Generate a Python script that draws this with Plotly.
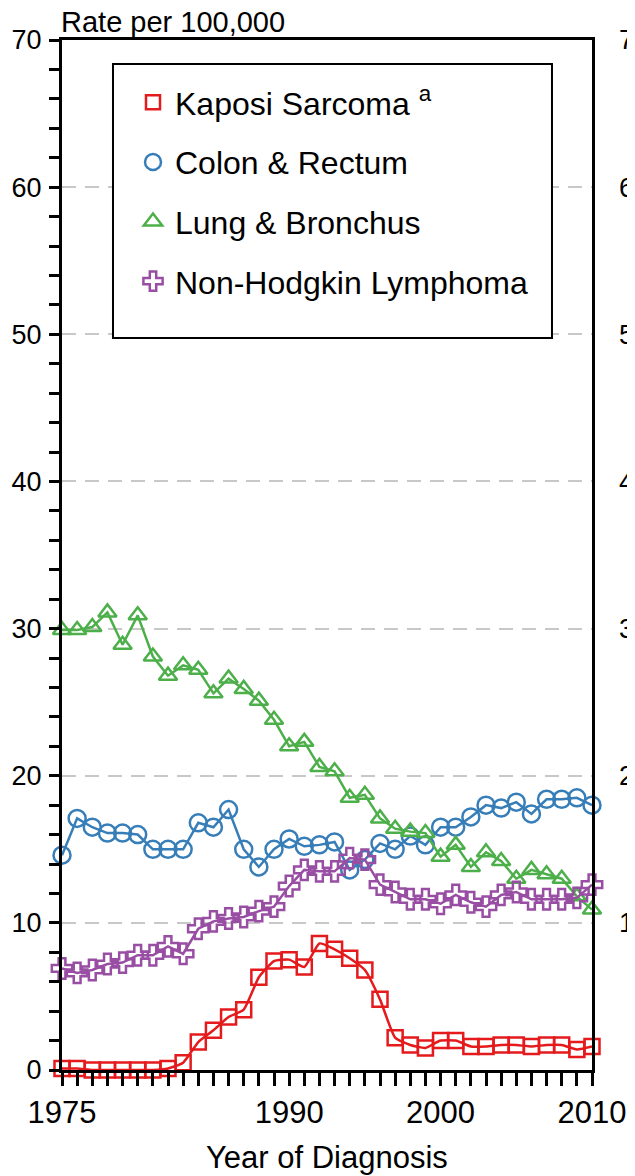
import plotly.graph_objects as go

years = list(range(1975, 2011))
kaposi = [0.1, 0.1, 0.0, 0.0, 0.0, 0.0, 0.0, 0.1, 0.5, 1.9, 2.7, 3.6, 4.1, 6.3, 7.4, 7.5, 7.0, 8.6,
          8.2, 7.6, 6.8, 4.8, 2.2, 1.7, 1.5, 2.0, 2.0, 1.6, 1.6, 1.7, 1.7, 1.6, 1.7, 1.7, 1.4, 1.6]
colon = [14.6, 17.1, 16.5, 16.1, 16.1, 16.0, 15.0, 15.0, 15.0, 16.8, 16.5, 17.7, 15.0, 13.8, 15.0, 15.7,
         15.2, 15.3, 15.5, 13.6, 14.3, 15.4, 15.0, 15.9, 15.3, 16.5, 16.5, 17.2, 18.0, 17.8, 18.2, 17.4,
         18.4, 18.4, 18.5, 18.0]
lung = [29.9, 29.9, 30.1, 31.1, 28.9, 30.9, 28.1, 26.8, 27.5, 27.2, 25.6, 26.6, 25.9, 25.1, 23.8, 22.0,
        22.3, 20.6, 20.3, 18.5, 18.7, 17.1, 16.4, 16.2, 16.1, 14.5, 15.3, 13.8, 14.8, 14.2, 13.0, 13.6,
        13.3, 13.0, 11.8, 10.9]
nhl = [6.9, 6.6, 6.8, 7.2, 7.3, 7.8, 7.8, 8.4, 7.9, 9.6, 10.1, 10.3, 10.4, 10.8, 11.1, 12.5, 13.6, 13.5,
       13.5, 14.4, 14.3, 12.6, 12.1, 11.6, 11.6, 11.3, 11.9, 11.4, 11.1, 11.9, 12.1, 11.6, 11.6, 11.6,
       11.7, 12.6]

series_names = ["Kaposi Sarcoma <sup>a</sup>", "Colon & Rectum", "Lung & Bronchus", "Non-Hodgkin Lymphoma"]
series_values = [kaposi, colon, lung, nhl]
colors = ["#E41A1C", "#377EB8", "#4DAF4A", "#984EA3"]
symbols = ["square-open", "circle-open", "triangle-up-open", "cross-open"]
sizes = [15, 17, 16, 17]
legend_sizes = [14, 17, 17, 17]
shapes_line = ["spline", "linear", "linear", "linear"]

x_label_years = [1975, 1990, 2000, 2010]
y_ticks = [0, 10, 20, 30, 40, 50, 60, 70]

FONT = "Liberation Sans, Arial, sans-serif"

fig = go.Figure()
for name, vals, c, sym, sz, shp in zip(series_names, series_values, colors, symbols, sizes, shapes_line):
    fig.add_trace(go.Scatter(
        x=years, y=vals, mode="lines+markers", showlegend=False,
        line=dict(color=c, width=2.5, shape=shp, smoothing=0.5),
        marker=dict(symbol=sym, size=sz, color=c, line=dict(color=c, width=2.5)),
        cliponaxis=False,
    ))
# legend entries (markers only)
for i, (name, c, sym, sz) in enumerate(zip(series_names, colors, symbols, legend_sizes)):
    fig.add_trace(go.Scatter(
        x=[None], y=[None], mode="markers", name=name, legendgroup=f"g{i}",
        marker=dict(symbol=sym, size=sz, color=c, line=dict(color=c, width=2.5)),
        yaxis="y2",
    ))

# page body has an 8px margin, so the figure is drawn 8px smaller and offset
fig.update_layout(
    width=627, height=1168,
    margin=dict(l=54, r=43, t=32, b=106),
    paper_bgcolor="white", plot_bgcolor="white",
    font=dict(family=FONT, size=31, color="black"),
    showlegend=True,
    legend=dict(
        x=0.1302, y=0.966, xanchor="left", yanchor="top",
        borderwidth=0, bgcolor="rgba(0,0,0,0)",
        font=dict(family=FONT, size=32, color="black"),
        tracegroupgap=15, itemwidth=34,
    ),
    xaxis=dict(
        range=[1975, 2010], tickmode="array", tickvals=x_label_years,
        ticks="outside", ticklen=13, tickwidth=2.5, tickcolor="black",
        minor=dict(tick0=1975, dtick=1, ticks="outside", ticklen=13, tickwidth=2.5, tickcolor="black",
                   showgrid=False),
        showline=True, linecolor="black", linewidth=3, mirror=True,
        showgrid=False, zeroline=False, automargin=False,
        tickfont=dict(size=31), ticklabelstandoff=0,
    ),
    yaxis=dict(
        range=[0, 70], tickmode="array", tickvals=y_ticks,
        ticks="outside", ticklen=10, tickwidth=2.5, tickcolor="black",
        minor=dict(dtick=2, ticks="outside", ticklen=10, tickwidth=2.5, tickcolor="black", showgrid=False),
        showline=True, linecolor="black", linewidth=3, mirror=True,
        showgrid=True, gridcolor="#c8c8c8", gridwidth=2, griddash="14px,9px",
        zeroline=False, automargin=False, tickfont=dict(size=27), ticklabelstandoff=2,
    ),
    yaxis2=dict(
        range=[0, 70], overlaying="y", side="right", anchor="x",
        tickmode="array", tickvals=y_ticks[1:], ticks="", showgrid=False,
        showline=False, zeroline=False, automargin=False,
        tickfont=dict(size=27, color="black"), ticklabelstandoff=26,
    ),
    shapes=[dict(
        type="rect", xref="paper", yref="paper",
        x0=0.0962, x1=0.9245, y0=0.7107, y1=0.9767,
        line=dict(color="black", width=2), fillcolor="white", layer="above",
    )],
    annotations=[
        dict(text="Rate per 100,000", xref="paper", yref="paper", x=-0.006, y=1.0175,
             xanchor="left", yanchor="middle", showarrow=False, font=dict(size=29)),
        dict(text="Year of Diagnosis", xref="paper", yref="paper", x=0.5, y=-0.0845,
             xanchor="center", yanchor="middle", showarrow=False, font=dict(size=31)),
    ],
)

fig.write_html("out.html")
